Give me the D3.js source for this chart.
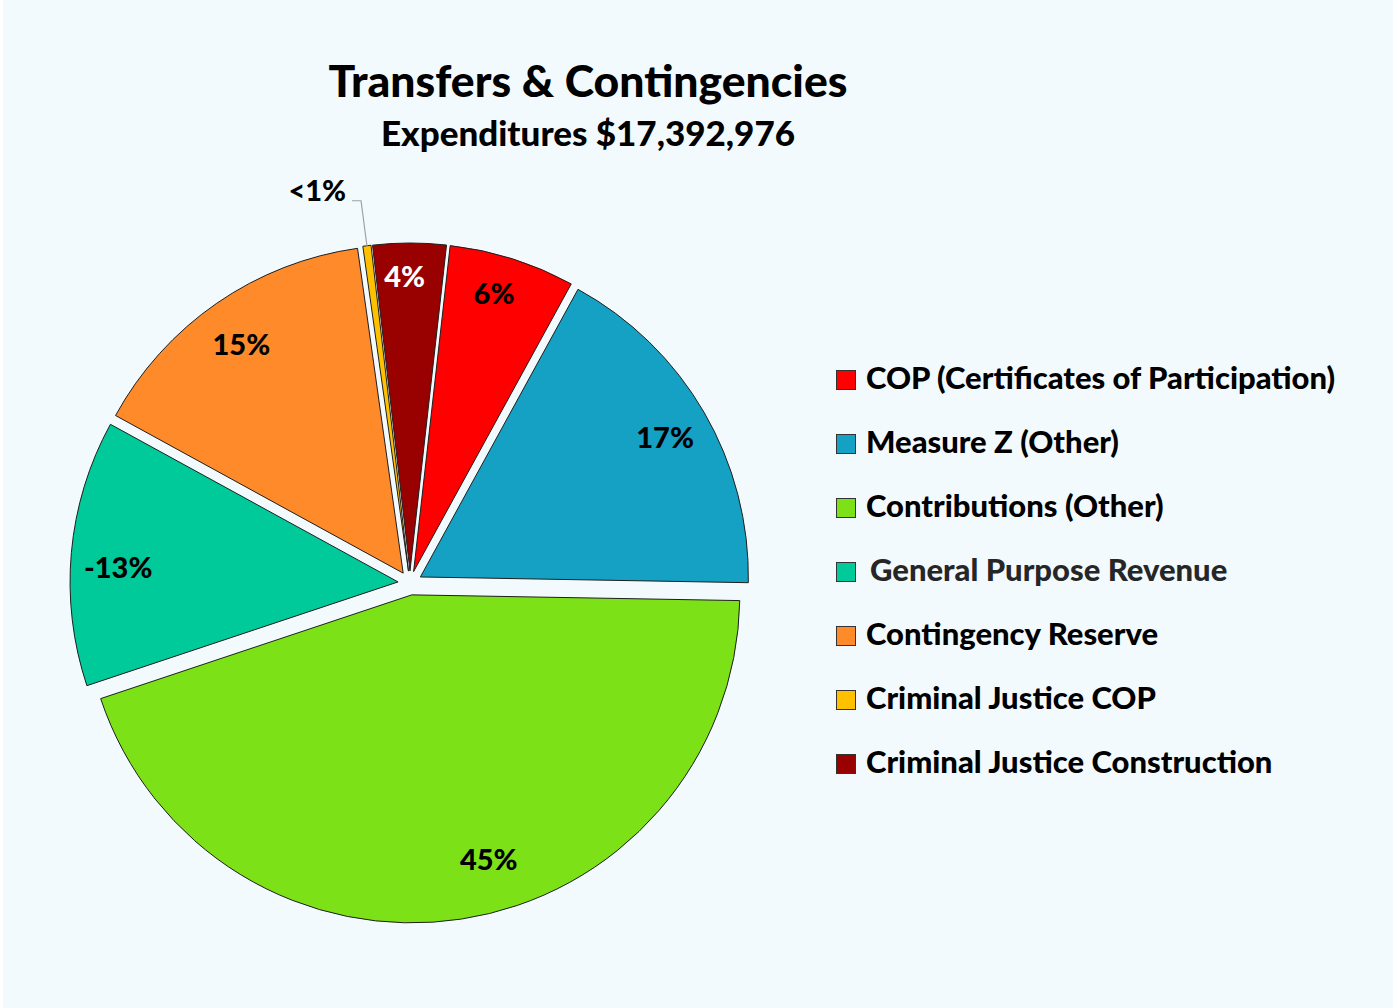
<!DOCTYPE html>
<html>
<head>
<meta charset="utf-8">
<script src="https://cdn.jsdelivr.net/npm/d3@7"></script>
<style>
  body { margin: 0; background: #fff; }
  text { font-family: Lato, "Open Sans", sans-serif; font-weight: 900; }
</style>
</head>
<body>
<script>
var categories = [
  "COP (Certificates of Participation)",
  "Measure Z (Other)",
  "Contributions (Other)",
  "General Purpose Revenue",
  "Contingency Reserve",
  "Criminal Justice COP",
  "Criminal Justice Construction"
];
// share of expenditures, percent (general purpose revenue is negative)
var shares = [6.2, 17.3, 44.6, -13.1, 14.8, 0.4, 3.6];
var colors = ["#ff0000", "#15a1c4", "#7de118", "#00c99a", "#ff8a2a", "#ffc000", "#990000"];

var width = 1393, height = 1008,
    cx = 410, cy = 583,
    radius = 328,
    explode = 12,
    labelR = 283,
    a0 = 6.4 * Math.PI / 180;

var data = categories.map((c, i) => ({name: c, value: shares[i], color: colors[i]}));
var total = d3.sum(data, (d) => Math.abs(d.value));

// label tweaks so they sit where the original put them
var nudge = {0: [-5, -8], 1: [0, 3], 2: [34, -15], 3: [2, 11], 4: [-1, 4], 6: [-5, -11]};

var svg = d3.select("body").append("svg")
    .attr("width", width)
    .attr("height", height);

svg.append("rect")
    .attr("x", 3).attr("y", 0)
    .attr("width", width - 3).attr("height", height)
    .attr("fill", "#f3fafd");

svg.append("text")
    .attr("x", 588).attr("y", 97)
    .attr("text-anchor", "middle")
    .style("font-size", "44.5px")
    .text("Transfers & Contingencies");

svg.append("text")
    .attr("x", 588).attr("y", 146)
    .attr("text-anchor", "middle")
    .style("font-size", "35px")
    .text("Expenditures $17,392,976");

var pie = d3.pie()
    .sort(null)
    .value((d) => Math.abs(d.value))
    .startAngle(a0)
    .endAngle(a0 + 2 * Math.PI);

var arc = d3.arc().innerRadius(0).outerRadius(radius);

var arcs = pie(data);

function offset(d, r) {
  var mid = (d.startAngle + d.endAngle) / 2;
  return [r * Math.sin(mid), -r * Math.cos(mid)];
}

var slice = svg.append("g")
    .attr("transform", `translate(${cx},${cy})`)
  .selectAll(".slice")
    .data(arcs)
  .enter().append("g")
    .attr("class", "slice")
    .attr("transform", (d) => { var o = offset(d, explode); return `translate(${o[0]},${o[1]})`; });

slice.append("path")
    .attr("d", arc)
    .attr("fill", (d) => d.data.color)
    .attr("stroke", "#1e1e1e")
    .attr("stroke-width", 1);

function pctText(d) {
  var p = Math.abs(d.data.value) / total * 100;
  if (p < 1) return "<1%";
  return (d.data.value < 0 ? "-" : "") + Math.round(p) + "%";
}

// labels inside the slices
slice.filter((d) => Math.abs(d.data.value) / total >= 0.01)
  .append("text")
    .attr("x", (d) => offset(d, labelR)[0] + (nudge[d.index] || [0, 0])[0])
    .attr("y", (d) => offset(d, labelR)[1] + (nudge[d.index] || [0, 0])[1])
    .attr("dy", "0.36em")
    .attr("text-anchor", "middle")
    .style("font-size", "29px")
    .attr("fill", (d) => d.index === 6 ? "#fff" : "#000")
    .text(pctText);

// tiny slice gets an outside label with a leader line
var tiny = slice.filter((d) => Math.abs(d.data.value) / total < 0.01);
tiny.each(function(d) {
  var g = d3.select(this),
      p = offset(d, radius - 1),
      ly = p[1] - 46;
  g.append("path")
      .attr("d", `M${p[0] - 15},${ly}H${p[0] - 6}L${p[0]},${p[1]}`)
      .attr("fill", "none")
      .attr("stroke", "#a0a0a0")
      .attr("stroke-width", 1.2);
  g.append("text")
      .attr("x", p[0] - 21).attr("y", ly)
      .attr("text-anchor", "end")
      .style("font-size", "29px")
      .text(pctText(d));
});

// legend
var legend = svg.append("g")
    .attr("transform", "translate(836,389)")
  .selectAll(".key")
    .data(data)
  .enter().append("g")
    .attr("class", "key")
    .attr("transform", (d, i) => `translate(0,${i * 64})`);

legend.append("rect")
    .attr("x", 0.5).attr("y", -18.5)
    .attr("width", 19).attr("height", 19)
    .attr("fill", (d) => d.color)
    .attr("stroke", "#333")
    .attr("stroke-width", 1);

legend.append("text")
    .attr("x", (d, i) => i === 3 ? 34 : 30)
    .attr("y", 0)
    .style("font-size", "31px")
    .attr("fill", (d, i) => i === 3 ? "#262626" : "#000")
    .text((d) => d.name);
</script>
</body>
</html>
